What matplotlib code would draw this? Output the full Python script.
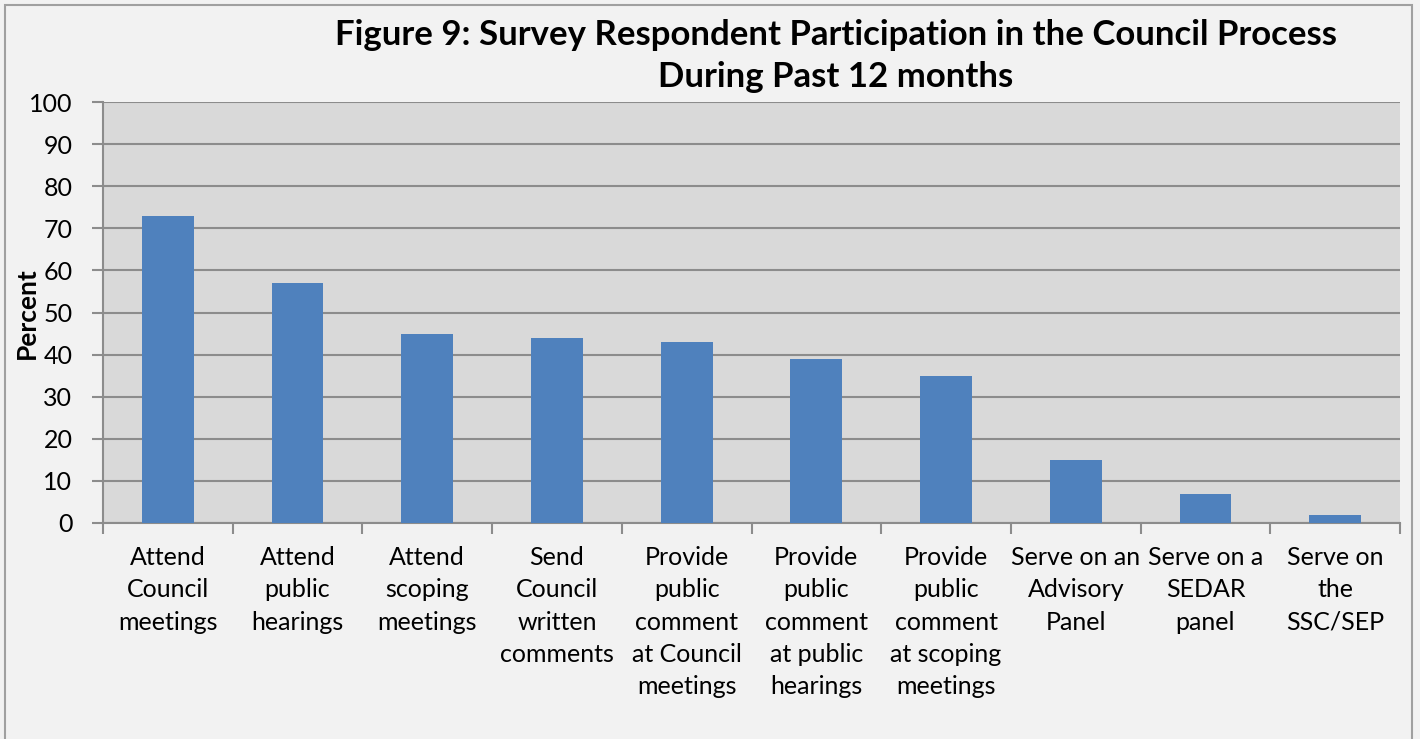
import matplotlib.pyplot as plt
from matplotlib.patches import Rectangle

# data
categories = ['Attend\nCouncil\nmeetings', 'Attend\npublic\nhearings', 'Attend\nscoping\nmeetings',
              'Send\nCouncil\nwritten\ncomments', 'Provide\npublic\ncomment\nat Council\nmeetings',
              'Provide\npublic\ncomment\nat public\nhearings', 'Provide\npublic\ncomment\nat scoping\nmeetings',
              'Serve on an\nAdvisory\nPanel', 'Serve on a\nSEDAR\npanel', 'Serve on\nthe\nSSC/SEP']
percent = [73, 57, 45, 44, 43, 39, 35, 15, 7, 2]
y_ticks = list(range(0, 101, 10))

plt.rcParams['font.family'] = ['Lato', 'DejaVu Sans']

fig = plt.figure(figsize=(14.2, 7.39), dpi=100, facecolor='#f2f2f2')
ax = fig.add_axes([103 / 1420, 1 - 523 / 739, (1400 - 103) / 1420, (523 - 102) / 739])
ax.set_facecolor('#d9d9d9')

# outer chart border
fig.patches.append(Rectangle((5 / 1420, -0.01), 1407 / 1420, 1 - 5 / 739 + 0.01,
                             transform=fig.transFigure, fill=False,
                             edgecolor='#a0a0a0', linewidth=1.5))

x = range(len(categories))
ax.bar(x, percent, width=0.4, color='#4f81bd', zorder=3)

ax.set_xlim(-0.5, len(categories) - 0.5)
ax.set_ylim(0, 100)
ax.set_yticks(y_ticks)
ax.tick_params(axis='y', labelsize=18, length=8, color='#8c8c8c', width=1.5, pad=14)
ax.yaxis.grid(True, color='#8c8c8c', linewidth=1.5, zorder=1)
ax.set_axisbelow(True)

# category ticks sit on the boundaries, labels in the middle
ax.set_xticks([i - 0.5 for i in range(len(categories) + 1)])
ax.set_xticklabels([])
ax.tick_params(axis='x', length=8, color='#8c8c8c', width=1.5)
for i, lab in enumerate(categories):
    ax.text(i, -5.5, lab, ha='center', va='top', fontsize=18, linespacing=1.49,
            transform=ax.transData)

for s in ['left', 'bottom']:
    ax.spines[s].set_color('#8c8c8c')
    ax.spines[s].set_linewidth(1.5)
for s in ['top', 'right']:
    ax.spines[s].set_visible(False)

fig.text(27 / 1420, 1 - 313 / 739, 'Percent', rotation=90, ha='center', va='center',
         fontsize=19, fontweight='bold')

fig.text(836 / 1420, 1 - 56 / 739,
         'Figure 9: Survey Respondent Participation in the Council Process\nDuring Past 12 months',
         ha='center', va='center', fontsize=25, fontweight='bold', linespacing=1.42)

plt.savefig('out.png', dpi=100, facecolor=fig.get_facecolor())
